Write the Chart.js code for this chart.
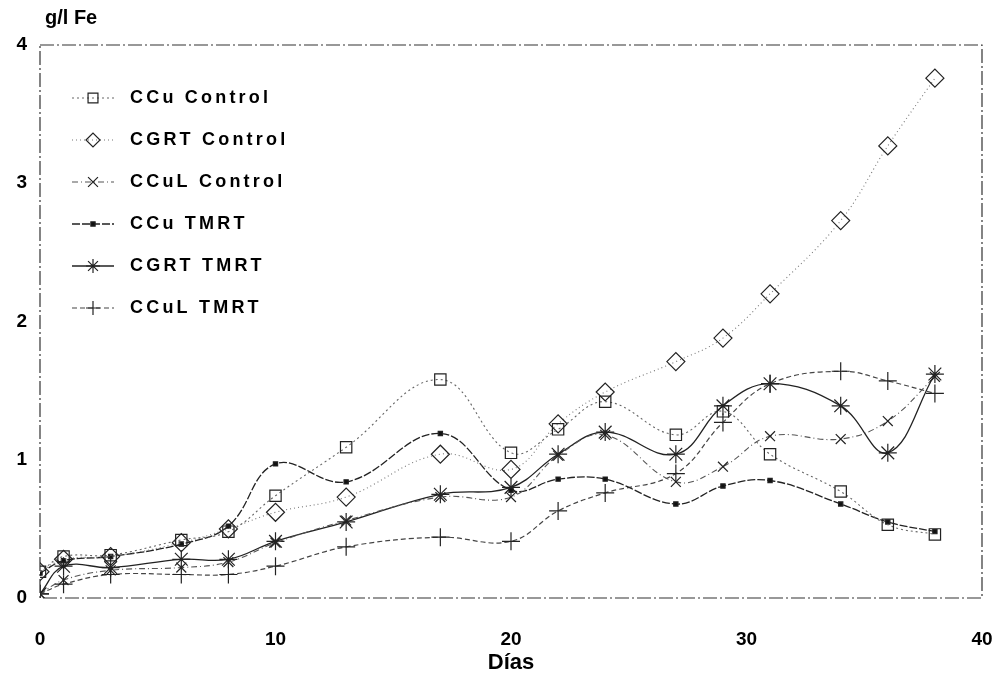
<!DOCTYPE html>
<html>
<head>
<meta charset="utf-8">
<script src="https://cdn.jsdelivr.net/npm/chart.js@4"></script>
<style>
html,body{margin:0;padding:0;background:#fff;}
#wrap{width:1003px;height:685px;position:relative;}
</style>
</head>
<body>
<div id="wrap"><canvas id="c" width="1003" height="685"></canvas></div>
<script>
const days = [0, 1, 3, 6, 8, 10, 13, 17, 20, 22, 24, 27, 29, 31, 34, 36, 38];
const seriesNames = ['CCu Control', 'CGRT Control', 'CCuL Control', 'CCu TMRT', 'CGRT TMRT', 'CCuL TMRT'];
const ccuControl  = [0.19, 0.30, 0.31, 0.42, 0.48, 0.74, 1.09, 1.58, 1.05, 1.22, 1.42, 1.18, 1.35, 1.04, 0.77, 0.53, 0.46];
const cgrtControl = [0.19, 0.28, 0.30, 0.40, 0.50, 0.62, 0.73, 1.04, 0.93, 1.26, 1.49, 1.71, 1.88, 2.20, 2.73, 3.27, 3.76];
const cculControl = [0.03, 0.13, 0.20, 0.22, 0.26, 0.40, 0.56, 0.73, 0.73, 1.03, 1.18, 0.84, 0.95, 1.17, 1.15, 1.28, 1.60];
const ccuTmrt     = [0.18, 0.27, 0.30, 0.39, 0.52, 0.97, 0.84, 1.19, 0.78, 0.86, 0.86, 0.68, 0.81, 0.85, 0.68, 0.55, 0.48];
const cgrtTmrt    = [0.03, 0.23, 0.22, 0.28, 0.28, 0.41, 0.55, 0.75, 0.80, 1.04, 1.20, 1.04, 1.39, 1.55, 1.39, 1.05, 1.62];
const cculTmrt    = [0.03, 0.10, 0.17, 0.17, 0.17, 0.23, 0.37, 0.44, 0.41, 0.63, 0.76, 0.90, 1.27, 1.55, 1.64, 1.57, 1.48];
const xTicks = [0, 10, 20, 30, 40];
const yTicks = [0, 1, 2, 3, 4];
const yTitle = 'g/l Fe';
const xTitle = 'Días';

const values = [ccuControl, cgrtControl, cculControl, ccuTmrt, cgrtTmrt, cculTmrt];
const styles = [
  {pointStyle:'rect',     radius:8, color:'#666', dash:[2,3],     width:1.1, fill:false},
  {pointStyle:'rectRot',  radius:9, color:'#777', dash:[1,3],     width:1.1, fill:false},
  {pointStyle:'crossRot', radius:7, color:'#555', dash:[6,3,1,3], width:1.1, fill:false},
  {pointStyle:'rect',     radius:3, color:'#222', dash:[8,2],     width:1.3, fill:true},
  {pointStyle:'star',     radius:9, color:'#222', dash:[],        width:1.3, fill:false},
  {pointStyle:'cross',    radius:9, color:'#444', dash:[5,3],     width:1.2, fill:false}
];

const datasets = values.map((v, i) => ({
  label: seriesNames[i],
  data: days.map((d, j) => ({x: d, y: v[j]})),
  borderColor: styles[i].color,
  backgroundColor: styles[i].fill ? '#111' : 'rgba(0,0,0,0)',
  borderWidth: styles[i].width,
  borderDash: styles[i].dash,
  pointStyle: styles[i].pointStyle,
  pointRadius: styles[i].radius,
  pointBorderColor: '#222',
  pointBackgroundColor: styles[i].fill ? '#111' : 'rgba(0,0,0,0)',
  pointBorderWidth: 1.2,
  tension: 0.4,
  fill: false
}));

const framePlugin = {
  id: 'frame',
  beforeDatasetsDraw(chart) {
    const a = chart.chartArea, ctx = chart.ctx;
    ctx.save();
    ctx.strokeStyle = '#333';
    ctx.lineWidth = 1.2;
    ctx.setLineDash([14, 3, 2, 3]);
    ctx.strokeRect(a.left, a.top, a.right - a.left, a.bottom - a.top);
    ctx.restore();
  },
  afterDraw(chart) {
    const a = chart.chartArea, ctx = chart.ctx;
    ctx.save();
    ctx.fillStyle = '#000';
    ctx.font = 'bold 20px "Liberation Sans", Arial, sans-serif';
    ctx.textBaseline = 'middle';
    ctx.textAlign = 'left';
    ctx.fillText(yTitle, a.left + 5, 18);
    // legend
    ctx.font = 'bold 18px "Liberation Sans", Arial, sans-serif';
    try { ctx.letterSpacing = '3.2px'; } catch (e) {}
    chart.data.datasets.forEach((ds, i) => {
      const y = 98 + 42 * i;
      ctx.save();
      try { ctx.letterSpacing = '0px'; } catch (e) {}
      ctx.strokeStyle = ds.borderColor;
      ctx.lineWidth = ds.borderWidth;
      ctx.setLineDash(ds.borderDash);
      ctx.beginPath();
      ctx.moveTo(72, y);
      ctx.lineTo(114, y);
      ctx.stroke();
      ctx.setLineDash([]);
      ctx.strokeStyle = '#222';
      ctx.fillStyle = ds.pointBackgroundColor;
      ctx.lineWidth = 1.2;
      Chart.helpers.drawPoint(ctx, {pointStyle: ds.pointStyle, radius: Math.min(ds.pointRadius, 7), borderWidth: 1.2, rotation: 0}, 93, y);
      ctx.restore();
      ctx.fillStyle = '#000';
      ctx.fillText(ds.label, 130, y);
    });
    ctx.restore();
  }
};

new Chart(document.getElementById('c'), {
  type: 'line',
  data: { datasets },
  options: {
    responsive: false,
    animation: false,
    layout: { padding: { top: 45, right: 21, left: 0, bottom: 0 } },
    plugins: { legend: { display: false }, tooltip: { enabled: false } },
    scales: {
      x: {
        type: 'linear',
        min: 0, max: 40,
        afterBuildTicks(s) { s.ticks = xTicks.map(v => ({value: v})); },
        afterFit(s) { s.height = 87; s.paddingLeft = 0; s.paddingRight = 0; },
        grid: { display: false, drawTicks: false },
        border: { display: false },
        ticks: { padding: 30, color: '#000', font: { family: '"Liberation Sans", Arial, sans-serif', size: 19, weight: 'bold' }, maxRotation: 0 },
        title: { display: true, text: xTitle, color: '#000', padding: { top: 0, bottom: 9 }, font: { family: '"Liberation Sans", Arial, sans-serif', size: 22, weight: 'bold' } }
      },
      y: {
        min: 0, max: 4,
        afterBuildTicks(s) { s.ticks = yTicks.map(v => ({value: v})); },
        afterFit(s) { s.width = 40; s.paddingTop = 0; s.paddingBottom = 0; },
        grid: { display: false, drawTicks: false },
        border: { display: false },
        ticks: { padding: 13, color: '#000', font: { family: '"Liberation Sans", Arial, sans-serif', size: 19, weight: 'bold' } }
      }
    }
  },
  plugins: [framePlugin]
});
</script>
</body>
</html>
